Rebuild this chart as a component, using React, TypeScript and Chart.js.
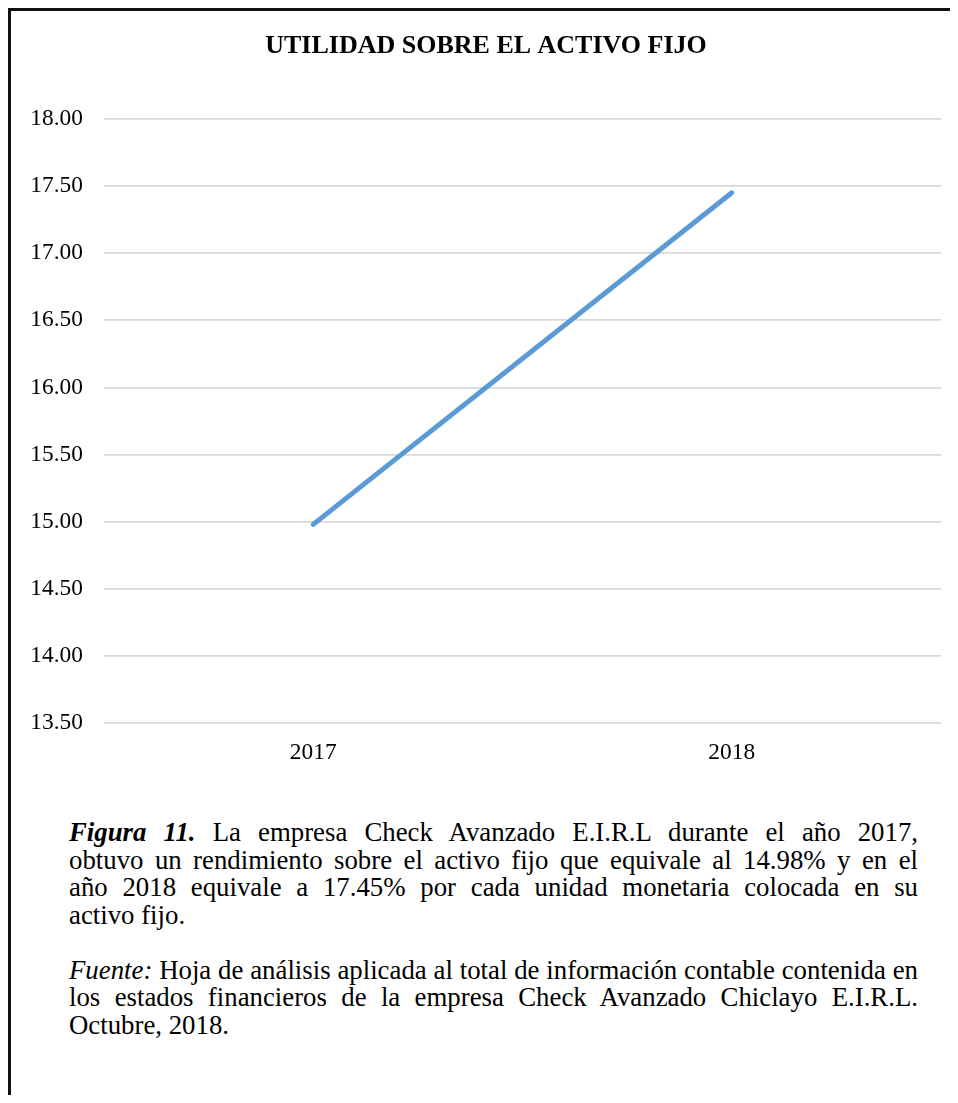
import React, { useEffect, useRef } from "react";
import { Chart, registerables } from "chart.js";

Chart.register(...registerables);

// ---- data ----
const years: string[] = ["2017", "2018"];
const utilidad: number[] = [14.98, 17.45];
const yMin = 13.5;
const yMax = 18.0;
const yStep = 0.5;
const chartTitle = "UTILIDAD SOBRE EL ACTIVO FIJO";

type Seg = { t: string; b?: boolean; i?: boolean };
const figuraLines: Seg[][] = [
  [{ t: "Figura 11.", b: true, i: true }, { t: " La empresa Check Avanzado E.I.R.L durante el año 2017," }],
  [{ t: "obtuvo un rendimiento sobre el activo fijo que equivale al 14.98% y en el" }],
  [{ t: "año 2018 equivale a 17.45% por cada unidad monetaria colocada en su" }],
  [{ t: "activo fijo." }],
];
const fuenteLines: Seg[][] = [
  [{ t: "Fuente:", i: true }, { t: " Hoja de análisis aplicada al total de información contable contenida en" }],
  [{ t: "los estados financieros de la empresa Check Avanzado Chiclayo E.I.R.L." }],
  [{ t: "Octubre, 2018." }],
];

const FONT = "'Liberation Serif', 'Times New Roman', Times, serif";
const LINE_H = 27.5;
const CAP_TOP = 808.2;

function Paragraph({ lines, top }: { lines: Seg[][]; top: number }) {
  return (
    <div
      style={{
        position: "absolute",
        left: 58,
        top,
        width: 849,
        fontFamily: FONT,
        fontSize: 26.8,
        lineHeight: LINE_H + "px",
        color: "#000",
      }}
    >
      {lines.map((segs, li) => (
        <div
          key={li}
          style={{
            height: LINE_H,
            whiteSpace: "nowrap",
            textAlign: "justify",
            textAlignLast: li === lines.length - 1 ? "left" : "justify",
          } as React.CSSProperties}
        >
          {segs.map((s, si) => (
            <span
              key={si}
              style={{ fontWeight: s.b ? "bold" : "normal", fontStyle: s.i ? "italic" : "normal" }}
            >
              {s.t}
            </span>
          ))}
        </div>
      ))}
    </div>
  );
}

export default function App() {
  const ref = useRef<HTMLCanvasElement | null>(null);

  useEffect(() => {
    if (!ref.current) return;
    const chart = new Chart(ref.current, {
      type: "line",
      data: {
        labels: years,
        datasets: [
          {
            label: chartTitle,
            data: utilidad,
            borderColor: "#5B9BD5",
            backgroundColor: "#5B9BD5",
            borderWidth: 5,
            borderCapStyle: "round",
            pointRadius: 0,
            tension: 0,
            fill: false,
          },
        ],
      },
      options: {
        responsive: false,
        animation: false,
        layout: { padding: { left: 20, right: 17, top: 0, bottom: 19 } },
        plugins: {
          legend: { display: false },
          tooltip: { enabled: false },
          title: {
            display: true,
            text: chartTitle,
            color: "#000",
            font: { family: FONT, size: 26, weight: "bold", lineHeight: 1.2 },
            padding: { top: 19.6, bottom: 57.2 },
          },
        },
        scales: {
          x: {
            offset: true,
            grid: { display: false, drawTicks: false },
            border: { display: false },
            ticks: { color: "#000", padding: 16, font: { family: FONT, size: 23.4, lineHeight: 1.2 } },
            afterFit: (scale: any) => {
              scale.height = 44;
            },
          },
          y: {
            min: yMin,
            max: yMax,
            grid: { color: "#D9D9D9", lineWidth: 1.7, drawTicks: false },
            border: { display: false },
            ticks: {
              stepSize: yStep,
              color: "#000",
              padding: 21,
              font: { family: FONT, size: 23.4, lineHeight: 1.2 },
              callback: (v: any) => Number(v).toFixed(2),
            },
            afterFit: (scale: any) => {
              scale.width = 73;
            },
          },
        },
      },
    });
    return () => chart.destroy();
  }, []);

  return (
    <div
      style={{
        position: "relative",
        boxSizing: "border-box",
        height: 1087,
        borderLeft: "3px solid #111",
        borderTop: "3px solid #111",
        overflow: "hidden",
        background: "#fff",
      }}
    >
      <canvas ref={ref} width={947} height={775} style={{ position: "absolute", left: 0, top: 0 }} />
      <Paragraph lines={figuraLines} top={CAP_TOP} />
      <Paragraph lines={fuenteLines} top={CAP_TOP + 5 * LINE_H} />
    </div>
  );
}
